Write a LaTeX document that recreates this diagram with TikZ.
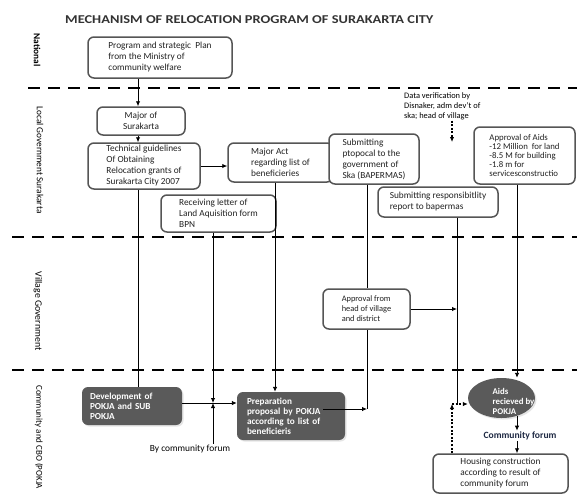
\documentclass[tikz,border=0pt]{standalone}
\usepackage{fontspec}
\setmainfont{Carlito}
\usetikzlibrary{arrows.meta,shadows,calc,shapes.geometric}
\definecolor{bord}{HTML}{555555}
\definecolor{darkbox}{HTML}{5A5A5A}
\definecolor{navy}{HTML}{1F2A44}
\definecolor{txt}{HTML}{222222}
\begin{document}
\begin{tikzpicture}[x=1pt,y=-1pt,
  box/.style={draw=bord, line width=1.5pt, rounded corners=6pt, fill=white, align=left, text=txt,
    font=\fontsize{9.3}{11}\selectfont, inner xsep=4pt, inner ysep=2pt},
  dbox/.style={fill=darkbox, rounded corners=6pt, align=left, text=white,
    font=\fontsize{9.2}{10}\selectfont\bfseries,
    drop shadow={fill=gray!40, shadow xshift=1.5pt, shadow yshift=-1.5pt}},
  lane/.style={rotate=-90, font=\fontsize{9.3}{11}\selectfont, text=black, inner sep=1pt},
  sep/.style={line width=1.8pt, dash pattern=on 12pt off 8pt},
  arr/.style={line width=0.9pt, -{Latex[length=5pt,width=4.5pt]}},
  ln/.style={line width=0.9pt},
  dotarr/.style={line width=1.3pt, dash pattern=on 2pt off 1.6pt, -{Latex[length=5pt,width=4.5pt]}},
  plain/.style={font=\fontsize{9}{10}\selectfont, inner sep=1pt}
]
\fill[white] (0,0) rectangle (577,498);
\useasboundingbox (0,0) rectangle (577,498);

% title
\node[font=\fontsize{12}{14}\selectfont\bfseries, text=black!80, anchor=west, inner sep=0] (title) at (65,20)
  {\scalebox{1.2}[1]{MECHANISM OF RELOCATION PROGRAM OF SURAKARTA CITY}};

% lanes
\node[lane, font=\fontsize{9.3}{11}\selectfont\bfseries] (lnat) at (37,50) {National};
\node[lane] (lloc) at (40,160) {Local Government Surakarta};
\node[lane, font=\fontsize{9.8}{11}\selectfont] (lvil) at (38,311) {Village Government};
\node[lane, anchor=west, font=\fontsize{9}{11}\selectfont] (lcom) at (39,384) {Community and CBO (POKJA};

% separators
\draw[sep] (28,88) -- (577,88);
\draw[sep] (12,237) -- (577,237);
\draw[sep] (12,370) -- (577,370);

% boxes
\node[box, minimum width=144, minimum height=41] (prog) at (160,57.5)
  {Program and strategic\ \ Plan\\from the Ministry of\\community welfare};
\node[box, align=center, minimum width=88, minimum height=28] (major) at (141,121)
  {Major of\\Surakarta};
\node[box, minimum width=112, minimum height=46] (tech) at (144,166)
  {Technical guidelines\\Of Obtaining\\Relocation grants of\\Surakarta City 2007};
\node[box, minimum width=105, minimum height=39] (act) at (280.5,162.5)
  {Major Act\\regarding list of\\beneficieries};
\node[box, minimum width=115, minimum height=37] (recv) at (218.5,213.5)
  {Receiving letter of\\Land Aquisition form\\BPN};
\node[box, minimum width=90, minimum height=50] (subm) at (374,159)
  {Submitting\\ptopocal to the\\government of\\Ska (BAPERMAS)};
\node[box, minimum width=120, minimum height=30] (resp) at (438,202)
  {Submitting responsibitlity\\report to bapermas};
\node[box, font=\fontsize{8.8}{8.8}\selectfont, minimum width=101, minimum height=57, inner xsep=2pt] (aids) at (524.5,155.5)
  {Approval of Aids\\-12 Million\ \ for land\\-8.5 M for building\\-1.8 m for\\servicesconstructio};
\node[plain, anchor=north west, align=left, font=\fontsize{8.4}{10}\selectfont] (datav) at (403,91)
  {Data verification by\\Disnaker, adm dev't of\\ska; head of village};
\node[box, font=\fontsize{8.4}{10}\selectfont, minimum width=87, minimum height=40] (vill) at (366.5,309)
  {Approval from\\head of village\\and district};

\node[dbox, minimum width=100, minimum height=38, text width=84, inner xsep=8] (devel) at (132,406)
  {\mbox{Development of}\\\mbox{POKJA and SUB}\\\mbox{POKJA}};
\node[dbox, minimum width=108, minimum height=48, text width=88, inner xsep=10] (prep) at (291,416)
  {\mbox{Preparation}\\\mbox{proposal by POKJA}\\\mbox{according to list of}\\\mbox{beneficieris}};
\node[ellipse, fill=darkbox, minimum width=67, minimum height=40, inner sep=0,
  drop shadow={fill=gray!40, shadow xshift=1.5pt, shadow yshift=-1.5pt},
  label={[text=white, align=left, font=\fontsize{8.8}{10}\selectfont\bfseries, xshift=12pt, yshift=-3pt]center:{Aids\\recieved by\\POKJA}}] (ell) at (501.5,398) {};
\node[plain, font=\fontsize{9.6}{10}\selectfont\bfseries, text=navy] (cf) at (520,436) {Community forum};
\node[box, minimum width=135, minimum height=39] (housing) at (500.5,473.5)
  {Housing construction\\according to result of\\community forum};
\node[plain, font=\fontsize{9.4}{10}\selectfont] (bycf) at (190,449) {By community forum};

% helper coordinates
\coordinate (x1) at (138,0);
\coordinate (x2) at (213,0);
\coordinate (x3) at (275,0);
\coordinate (x4) at (367,0);
\coordinate (x5) at (457,0);
\coordinate (x6) at (517,0);
\coordinate (xd) at (452,0);
\coordinate (meet) at (213,403);
\coordinate (pend) at (367,409);
\coordinate (rend) at (457,403);
\coordinate (dcorner) at (452,404);
\coordinate (dvend) at (452,142);

% connectors
\draw[arr] (prog.south -| x1) -- (major.north -| x1);
\draw[arr] (major.south -| x1) -- (tech.north -| x1);
\draw[ln] (tech.south -| x1) -- (devel.north -| x1);
\draw[arr] (tech.east) -- (act.west |- tech.east);
\draw[arr] (act.south -| x3) -- (prep.north -| x3);
\draw[arr] (recv.south -| x2) -- (meet);
\draw[arr] (bycf.north -| x2) -- (meet);
\draw[arr] (devel.east |- meet) -- (prep.west |- meet);
\draw[ln] (subm.south -| x4) -- (vill.north -| x4);
\draw[ln] (vill.south -| x4) -- (pend);
\draw[arr] ($(prep.center)+(32,-7)$) -- (pend);
\draw[arr] (vill.east) -- (vill.east -| x5);
\draw[ln] (resp.south -| x5) -- (rend);
\draw[dotarr] (housing.north -| xd) -- (dcorner);
\draw[dotarr] (dcorner) -- (ell.west |- dcorner);
\draw[arr] (aids.south -| x6) -- (ell.north -| x6);
\draw[arr, shorten <=-2pt] (ell.south -| x6) -- (cf.north -| x6);
\draw[arr] (cf.south -| x6) -- (housing.north -| x6);
\draw[dotarr] (datav.south -| xd) -- (dvend);
\end{tikzpicture}
\end{document}
